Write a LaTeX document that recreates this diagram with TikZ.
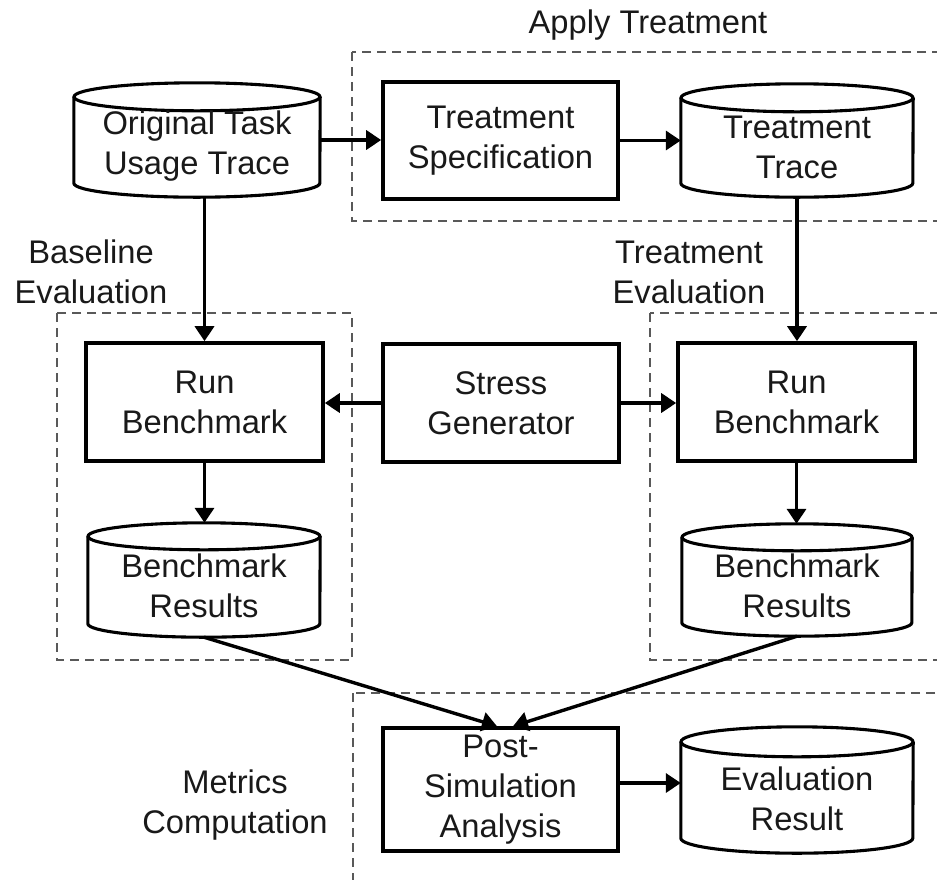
\documentclass[tikz,border=0pt]{standalone}
\usepackage{fontspec}
\setmainfont{Liberation Sans}
\usetikzlibrary{arrows.meta,calc}

% Outline of a storage cylinder around a frame node: name, x radius, y radius
\newcommand\cylout[3]{%
  \draw[cylline] ([yshift=-#3]#1.north west) -- ([yshift=#3]#1.south west)
    arc[start angle=180,end angle=360,x radius=#2,y radius=#3]
    -- ([yshift=-#3]#1.north east);
  \draw[cylline] ([yshift=-#3]#1.north) ellipse[x radius=#2,y radius=#3];
}

\begin{document}
\begin{tikzpicture}[x=1pt,y=-1pt,
  txt/.style={font=\fontsize{32.7pt}{40pt}\selectfont, align=center, inner sep=0pt, text=black!90},
  procbox/.style={draw, line width=3.6pt, rectangle, inner sep=0pt, txt},
  cylframe/.style={rectangle, inner sep=0pt},
  cylline/.style={line width=3.1pt},
  flow/.style={line width=3.4pt, -{Triangle[length=15pt,width=19pt]}},
  group/.style={dash pattern=on 9pt off 6pt, line width=1.6pt, draw=black!65},
]
\useasboundingbox[fill=white] (0,0) rectangle (937,879);

% dashed stage frames
\draw[group] (352,52) rectangle (950,221);
\draw[group] (57,313) rectangle (352,660);
\draw[group] (650,313) rectangle (950,660);
\draw[group] (353,693) rectangle (950,882);

% stage labels
\node[txt] (lapply) at (648,25) {Apply Treatment};
\node[txt] (lbase) at (91,272) {Baseline\\Evaluation};
\node[txt] (ltreat) at (689,272) {Treatment\\Evaluation};
\node[txt] (lmetric) at (235,805) {Metrics\\Computation};

% processing steps
\node[procbox, minimum width=235pt, minimum height=117pt] (spec) at (500.5,140.5) {Treatment\\Specification};
\node[procbox, minimum width=237pt, minimum height=118pt] (rb1) at (204.5,402) {Run\\Benchmark};
\node[procbox, minimum width=236pt, minimum height=118pt] (sg) at (501,403) {Stress\\Generator};
\node[procbox, minimum width=237pt, minimum height=118pt] (rb2) at (796.5,402) {Run\\Benchmark};
\node[procbox, minimum width=235pt, minimum height=123pt] (psa) at (500.5,789.5) {Post-\\Simulation\\Analysis};

% data stores
\node[cylframe, minimum width=246pt, minimum height=114pt] (orig) at (197,140) {};
\cylout{orig}{123pt}{14pt}
\node[txt] (origtext) at (197,146) {Original Task\\Usage Trace};

\node[cylframe, minimum width=232pt, minimum height=113pt] (trace) at (797,140.5) {};
\cylout{trace}{116pt}{14pt}
\node[txt] (tracetext) at (797,147) {Treatment\\Trace};

\node[cylframe, minimum width=232pt, minimum height=114pt] (br1) at (204,580) {};
\cylout{br1}{116pt}{13.5pt}
\node[txt] (br1text) at (204,586) {Benchmark\\Results};

\node[cylframe, minimum width=230pt, minimum height=112pt] (br2) at (797,580) {};
\cylout{br2}{115pt}{13.5pt}
\node[txt] (br2text) at (797,586) {Benchmark\\Results};

\node[cylframe, minimum width=232pt, minimum height=126pt] (eval) at (797,790) {};
\cylout{eval}{116pt}{15pt}
\node[txt] (evaltext) at (797,799) {Evaluation\\Result};

% data flow
\draw[flow] (orig.east) -- (orig.east -| spec.west);
\draw[flow] (spec.east) -- (spec.east -| trace.west);
\draw[flow] (rb1.north |- orig.south) -- (rb1.north);
\draw[flow] (trace.south) -- (trace.south |- rb2.north);
\draw[flow] (sg.west) -- (sg.west -| rb1.east);
\draw[flow] (sg.east) -- (sg.east -| rb2.west);
\draw[flow] (rb1.south) -- (rb1.south |- br1.north);
\draw[flow] (rb2.south) -- (rb2.south |- br2.north);
\draw[flow] (br1.south) -- ([xshift=-3.5pt]psa.north);
\draw[flow] (br2.south) -- ([xshift=12.5pt]psa.north);
\draw[flow] ([yshift=6.5pt]psa.east) -- ([yshift=6.5pt]psa.east -| eval.west);
\end{tikzpicture}
\end{document}
